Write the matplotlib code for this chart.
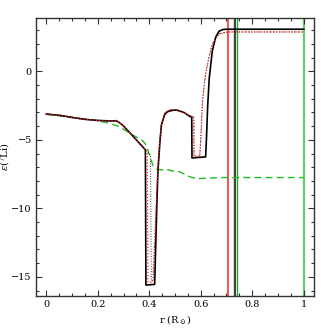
import matplotlib
matplotlib.use("Agg")
import matplotlib.pyplot as plt
from matplotlib.ticker import MultipleLocator

plt.rcParams['font.family'] = ['DejaVu Serif']
plt.rcParams['mathtext.fontset'] = 'dejavuserif'

# Black solid model
r_black = [0.0, 0.05, 0.10, 0.15, 0.20, 0.25, 0.27, 0.28, 0.30, 0.34, 0.385,
           0.387, 0.421, 0.430, 0.434, 0.441, 0.447, 0.46, 0.47, 0.49, 0.506,
           0.535, 0.557, 0.565, 0.566, 0.619, 0.622, 0.627, 0.633, 0.639, 0.645,
           0.658, 0.671, 0.685, 0.697, 1.0]
e_black = [-3.12, -3.2, -3.36, -3.5, -3.58, -3.62, -3.6, -3.68, -3.98, -4.8, -5.72,
           -15.6, -15.55, -9.4, -7.2, -5.26, -3.93, -3.15, -2.95, -2.84, -2.82,
           -3.0, -3.28, -3.35, -6.32, -6.24, -5.0, -2.5, -0.5, 0.5, 1.5,
           2.5, 2.93, 3.05, 3.08, 3.08]

# Red dotted model
r_red = [0.0, 0.05, 0.10, 0.15, 0.20, 0.25, 0.27, 0.28, 0.30, 0.34, 0.385,
         0.392, 0.395, 0.41, 0.414, 0.428, 0.433, 0.44, 0.447, 0.46, 0.48,
         0.506, 0.538, 0.555, 0.573, 0.574, 0.596, 0.600, 0.607, 0.619, 0.632,
         0.645, 0.671, 0.704, 1.0]
e_red = [-3.1, -3.2, -3.36, -3.5, -3.58, -3.62, -3.6, -3.68, -3.98, -4.8, -5.72,
         -5.9, -15.4, -15.4, -15.2, -9.4, -7.2, -5.3, -3.9, -3.05, -2.8,
         -2.8, -3.05, -3.2, -3.33, -6.2, -6.2, -5.0, -2.1, -0.17, 1.04,
         2.0, 2.74, 2.88, 2.88]

# Black dotted model
r_bdot = [0.0, 0.10, 0.20, 0.25, 0.28, 0.30, 0.34, 0.385, 0.405,
          0.408, 0.416, 0.428, 0.433, 0.44, 0.447, 0.46, 0.48, 0.506, 0.538,
          0.555, 0.573, 0.574, 0.596, 0.600, 0.607, 0.619, 0.632, 0.645, 0.671,
          0.704, 1.0]
e_bdot = [-3.1, -3.36, -3.58, -3.62, -3.68, -3.98, -4.8, -5.72, -6.1,
          -15.3, -15.3, -9.4, -7.2, -5.3, -3.9, -3.05, -2.8, -2.8, -3.05,
          -3.2, -3.33, -6.2, -6.2, -5.0, -2.1, -0.17, 1.04, 2.0, 2.74,
          2.88, 2.88]

# Green dashed model
r_green = [0.0, 0.10, 0.20, 0.247, 0.285, 0.337, 0.36, 0.376, 0.389, 0.402,
           0.415, 0.428, 0.447, 0.467, 0.492, 0.518, 0.557, 0.583, 0.635,
           0.674, 1.0]
e_green = [-3.12, -3.36, -3.6, -3.8, -4.05, -4.66, -4.9, -5.1, -5.4, -6.2,
           -6.9, -7.1, -7.2, -7.15, -7.28, -7.33, -7.69, -7.83, -7.79,
           -7.75, -7.75]

# Vertical markers (r values)
vline_r = [0.706, 0.729, 0.735, 0.742, 1.0]
vline_c = ['#ff2020', '#444444', '#444444', '#22aa22', '#66cc66']
vline_w = [1.1, 1.0, 0.8, 1.0, 1.6]

fig = plt.figure(figsize=(3.32, 3.32), dpi=100)
ax = fig.add_axes([0.1084, 0.1084, 0.8374, 0.8374])

for xv, c, w in zip(vline_r, vline_c, vline_w):
    ax.axvline(xv, color=c, lw=w, zorder=1)

ax.plot(r_green, e_green, color='#22bb22', lw=1.0, ls=(0, (5, 3)), zorder=2)
ax.plot(r_black, e_black, color='black', lw=1.2, zorder=3)
ax.plot(r_bdot, e_bdot, color='black', lw=0.6, ls=(0, (1, 2)), zorder=4)
ax.plot(r_red, e_red, color='#ff2020', lw=0.9, ls=(0, (1, 1.5)), zorder=5)

ax.set_xlim(-0.04, 1.04)
ax.set_ylim(-16.4, 3.9)
ax.xaxis.set_major_locator(MultipleLocator(0.2))
ax.xaxis.set_minor_locator(MultipleLocator(0.05))
ax.yaxis.set_major_locator(MultipleLocator(5))
ax.yaxis.set_minor_locator(MultipleLocator(1))
ax.set_xticks([0, 0.2, 0.4, 0.6, 0.8, 1.0])
ax.set_xticklabels(['0', '0.2', '0.4', '0.6', '0.8', '1'])
ax.tick_params(which='both', direction='in', top=True, right=True,
               labelsize=7, width=0.8, color='#333333', pad=3)
ax.tick_params(which='major', length=4)
ax.tick_params(which='minor', length=2.5)
for s in ax.spines.values():
    s.set_linewidth(1.0)
    s.set_color('#333333')

ax.set_xlabel(r'r (R$_\odot$)', fontsize=7, labelpad=3)
ax.set_ylabel(r'$\epsilon$($^7$Li)', fontsize=7)
ax.yaxis.set_label_coords(-0.085, 0.5)

fig.savefig('out.png', dpi=100)
